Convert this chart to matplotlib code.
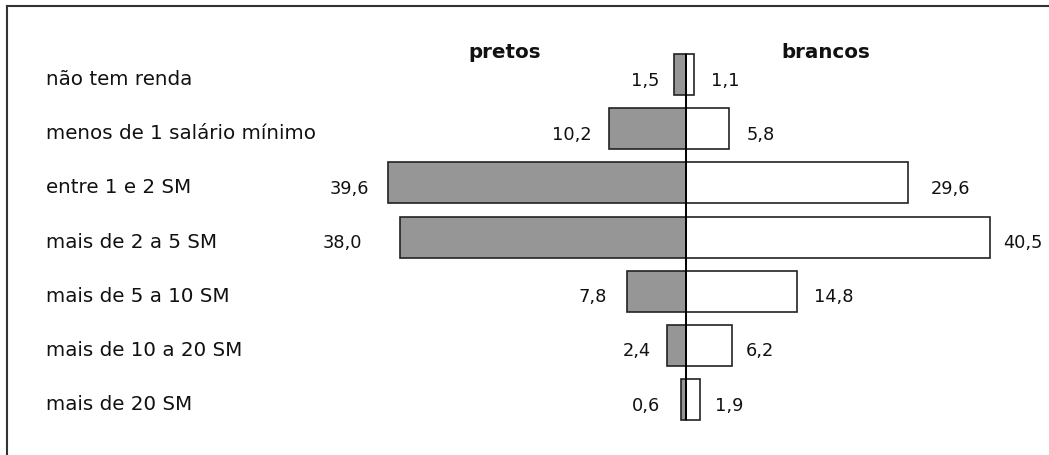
import matplotlib
matplotlib.use("Agg")
import matplotlib.pyplot as plt
from matplotlib.lines import Line2D

categories = ["não tem renda", "menos de 1 salário mínimo", "entre 1 e 2 SM",
              "mais de 2 a 5 SM", "mais de 5 a 10 SM", "mais de 10 a 20 SM",
              "mais de 20 SM"]
pretos = [1.5, 10.2, 39.6, 38.0, 7.8, 2.4, 0.6]
brancos = [1.1, 5.8, 29.6, 40.5, 14.8, 6.2, 1.9]
pretos_labels = ["1,5", "10,2", "39,6", "38,0", "7,8", "2,4", "0,6"]
brancos_labels = ["1,1", "5,8", "29,6", "40,5", "14,8", "6,2", "1,9"]

# styling: label gaps in pixels (as placed in the original)
left_gap_px = [15, 17, 19, 38, 20, 17, 21]
right_gap_px = [17, 18, 23, 13, 17, 14, 15]

W, H = 1049, 456
fig = plt.figure(figsize=(W / 100, H / 100), dpi=100)
ax = fig.add_axes([0, 0, 1, 1])

cx = 685.5      # px of zero
ppu = 7.52      # px per unit
y0 = 75.5       # px of first row center
dy = 54.17      # px between rows
ax.set_xlim(-cx / ppu, (W - cx) / ppu)
ax.set_ylim((H - y0) / dy, -y0 / dy)
ax.axis("off")

ys = list(range(len(categories)))
bh = 41 / dy
ax.barh(ys, [-v for v in pretos], height=bh, color="#969696",
        edgecolor="#222222", linewidth=1.2, zorder=2)
ax.barh(ys, brancos, height=bh, color="white",
        edgecolor="#222222", linewidth=1.2, zorder=2)
ax.plot([0, 0], [-bh / 2, len(categories) - 1 + bh / 2], color="black",
        lw=1.4, zorder=3, solid_capstyle="butt")

voff = 5 / dy
fs = 12.8
for y, v, lab, g in zip(ys, pretos, pretos_labels, left_gap_px):
    ax.text(-v - g / ppu, y + voff, lab, ha="right", va="center", fontsize=fs,
            color="#111111")
for y, v, lab, g in zip(ys, brancos, brancos_labels, right_gap_px):
    ax.text(v + g / ppu, y + voff, lab, ha="left", va="center", fontsize=fs,
            color="#111111")

for y, cat in zip(ys, categories):
    fig.text(46 / W, 1 - (y0 + y * dy + 4) / H, cat, ha="left", va="center",
             fontsize=14.3, color="#111111")

fig.text(504.5 / W, 1 - 52 / H, "pretos", ha="center", va="center",
         fontsize=14.3, fontweight="bold", color="#111111")
fig.text(826 / W, 1 - 52 / H, "brancos", ha="center", va="center",
         fontsize=14.3, fontweight="bold", color="#111111")

# frame (top and left)
fig.add_artist(Line2D([7 / W, 1], [1 - 7 / H, 1 - 7 / H], color="#333333",
                      lw=1.5, transform=fig.transFigure))
fig.add_artist(Line2D([7 / W, 7 / W], [1 - 7 / H, 0], color="#333333",
                      lw=1.5, transform=fig.transFigure))

fig.savefig("out.png", dpi=100, facecolor="white")
